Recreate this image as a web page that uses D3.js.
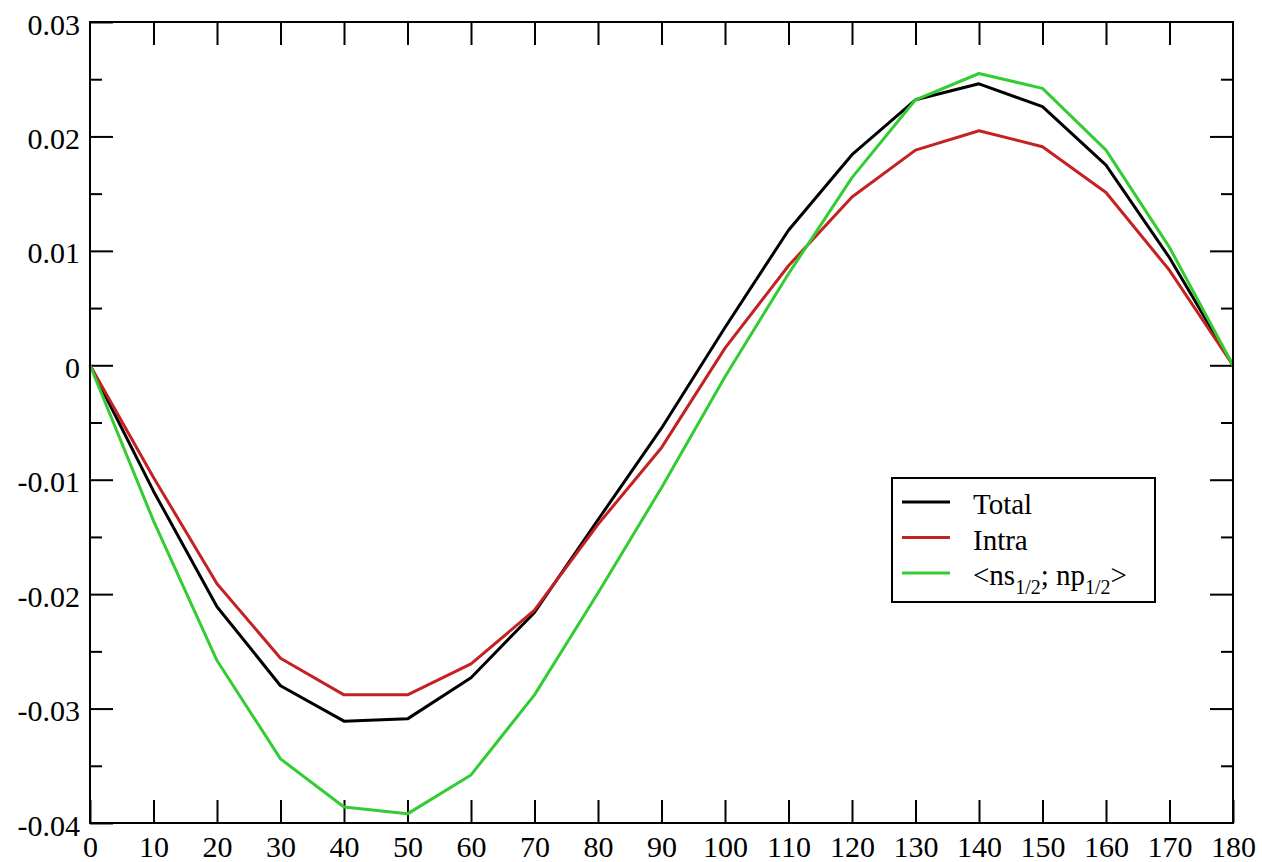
<!doctype html>
<html lang="en">
<head>
<meta charset="utf-8">
<title>Total / Intra</title>
<script src="https://d3js.org/d3.v7.min.js"></script>
<style>
  body { margin: 0; background: #fff; }
  svg text { font-family: "Liberation Serif", "DejaVu Serif", serif; }
</style>
</head>
<body>
<div id="chart"></div>
<script>
// angle values (x)
var angles = [0, 10, 20, 30, 40, 50, 60, 70, 80, 90, 100, 110, 120, 130, 140, 150, 160, 170, 180];

var total = [0, -0.0110, -0.0211, -0.0280, -0.0311, -0.0309, -0.0273, -0.0216, -0.0135, -0.0055, 0.0033,
             0.0118, 0.0184, 0.0232, 0.0246, 0.0226, 0.0175, 0.0094, 0];
var intra = [0, -0.0098, -0.0191, -0.0256, -0.0288, -0.0288, -0.0261, -0.0214, -0.0139, -0.0072, 0.0015,
             0.0087, 0.0147, 0.0188, 0.0205, 0.0191, 0.0151, 0.0083, 0];
var nsnp  = [0, -0.0136, -0.0258, -0.0344, -0.0386, -0.0392, -0.0358, -0.0288, -0.0199, -0.0107, -0.0010,
             0.0080, 0.0164, 0.0232, 0.0255, 0.0242, 0.0188, 0.0103, 0];

var xTicks = [0, 10, 20, 30, 40, 50, 60, 70, 80, 90, 100, 110, 120, 130, 140, 150, 160, 170, 180];
var yTicks = [-0.04, -0.03, -0.02, -0.01, 0, 0.01, 0.02, 0.03];
var yMinor = [-0.035, -0.025, -0.015, -0.005, 0.005, 0.015, 0.025];
var yLabels = ["-0.04", "-0.03", "-0.02", "-0.01", "0", "0.01", "0.02", "0.03"];

var W = 1262, H = 862;
var margin = {top: 22, right: 29, bottom: 39, left: 90};

var svg = d3.select("#chart").append("svg")
    .attr("width", W)
    .attr("height", H);

svg.append("rect").attr("width", W).attr("height", H).attr("fill", "#fff");

var x = d3.scaleLinear().domain([0, 180]).range([margin.left, W - margin.right]);
var y = d3.scaleLinear().domain([-0.04, 0.03]).range([H - margin.bottom, margin.top]);

function styleAxis(g) {
  g.attr("font-family", null);
  g.select(".domain").remove();
  g.selectAll(".tick line").attr("stroke", "#000").attr("stroke-width", 2);
  g.selectAll("text").attr("font-size", 30).attr("fill", "#000");
}

// bottom
svg.append("g")
    .attr("transform", "translate(0," + (H - margin.bottom) + ")")
    .call(d3.axisBottom(x).tickValues(xTicks).tickSize(-23).tickPadding(13).tickFormat(d3.format("d")))
    .call(styleAxis);

// top
svg.append("g")
    .attr("transform", "translate(0," + margin.top + ")")
    .call(d3.axisTop(x).tickValues(xTicks.slice(1, -1)).tickSize(-23).tickFormat(""))
    .call(styleAxis);

// left
var leftAx = svg.append("g")
    .attr("transform", "translate(" + margin.left + ",0)")
    .call(d3.axisLeft(y).tickValues(yTicks).tickSize(-23).tickPadding(10)
      .tickFormat(function (d, i) { return yLabels[i]; }))
    .call(styleAxis);
leftAx.selectAll("text").attr("dy", "0.4em");

svg.append("g")
    .attr("transform", "translate(" + margin.left + ",0)")
    .call(d3.axisLeft(y).tickValues(yMinor).tickSize(-12).tickFormat(""))
    .call(styleAxis);

// right
svg.append("g")
    .attr("transform", "translate(" + (W - margin.right) + ",0)")
    .call(d3.axisRight(y).tickValues(yTicks.slice(1, -1)).tickSize(-23).tickFormat(""))
    .call(styleAxis);
svg.append("g")
    .attr("transform", "translate(" + (W - margin.right) + ",0)")
    .call(d3.axisRight(y).tickValues(yMinor).tickSize(-12).tickFormat(""))
    .call(styleAxis);

// curves
var series = [
  {name: "Total", values: total, color: "#000000"},
  {name: "Intra", values: intra, color: "#c42222"},
  {name: "nsnp", values: nsnp, color: "#33cc33"}
];

var line = d3.line()
    .x(function (d, i) { return x(angles[i]); })
    .y(function (d) { return y(d); });

svg.append("g").selectAll("path")
    .data(series)
    .enter()
    .append("path")
    .attr("d", function (s) { return line(s.values); })
    .attr("fill", "none")
    .attr("stroke", function (s) { return s.color; })
    .attr("stroke-width", 3)
    .attr("stroke-linejoin", "round");

// frame
svg.append("rect")
    .attr("x", margin.left)
    .attr("y", margin.top)
    .attr("width", W - margin.left - margin.right)
    .attr("height", H - margin.top - margin.bottom)
    .attr("fill", "none")
    .attr("stroke", "#000")
    .attr("stroke-width", 2);

// legend
var lg = svg.append("g").attr("transform", "translate(892,478)");
lg.append("rect")
    .attr("width", 263).attr("height", 124)
    .attr("fill", "#fff").attr("stroke", "#000").attr("stroke-width", 2);

var rows = lg.selectAll("g.row")
    .data(series)
    .enter()
    .append("g")
    .attr("class", "row")
    .attr("transform", function (d, i) { return "translate(0," + (24 + i * 35.5) + ")"; });

rows.append("line")
    .attr("x1", 10).attr("x2", 58)
    .attr("stroke", function (d) { return d.color; })
    .attr("stroke-width", 3);

var txt = rows.append("text")
    .attr("x", 81)
    .attr("y", 12)
    .attr("font-size", 29)
    .attr("fill", "#000");

txt.each(function (d) {
  var t = d3.select(this);
  if (d.name !== "nsnp") { t.text(d.name); return; }
  t.append("tspan").text("<ns");
  t.append("tspan").attr("font-size", 20).attr("dy", 9).text("1/2");
  t.append("tspan").attr("dy", -9).text("; np");
  t.append("tspan").attr("font-size", 20).attr("dy", 9).text("1/2");
  t.append("tspan").attr("dy", -9).text(">");
});
</script>
</body>
</html>
